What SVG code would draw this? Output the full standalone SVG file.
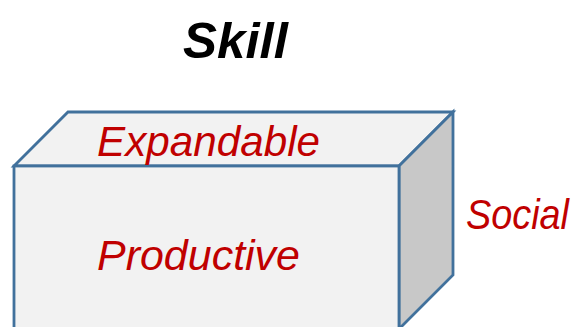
<svg xmlns="http://www.w3.org/2000/svg" width="582" height="327" viewBox="0 0 582 327">
<style>
.face{stroke:#41719c;stroke-width:2.8;stroke-linejoin:miter}
.lbl{font-family:"Liberation Sans",Arial,sans-serif;font-style:italic;fill:#c00000;font-size:43px}
</style>
<rect width="582" height="327" fill="#ffffff"/>
<text x="183" y="58" font-family="Liberation Sans,Arial,sans-serif" font-weight="bold" font-style="italic" font-size="50" fill="#000" textLength="105" lengthAdjust="spacingAndGlyphs">Skill</text>
<g id="box">
<polygon class="face" points="14,166 68,112 453,112 399,166" fill="#f2f2f2"/>
<polygon class="face" points="399,166 453,112 453,275 399,329" fill="#c8c8c8"/>
<rect class="face" x="14" y="166" width="385" height="165" fill="#f2f2f2"/>
</g>
<text class="lbl" x="97" y="156" textLength="223" lengthAdjust="spacingAndGlyphs">Expandable</text>
<text class="lbl" x="97" y="270" textLength="203" lengthAdjust="spacingAndGlyphs">Productive</text>
<text class="lbl" x="466" y="229" font-size="40" textLength="103" lengthAdjust="spacingAndGlyphs">Social</text>
</svg>
